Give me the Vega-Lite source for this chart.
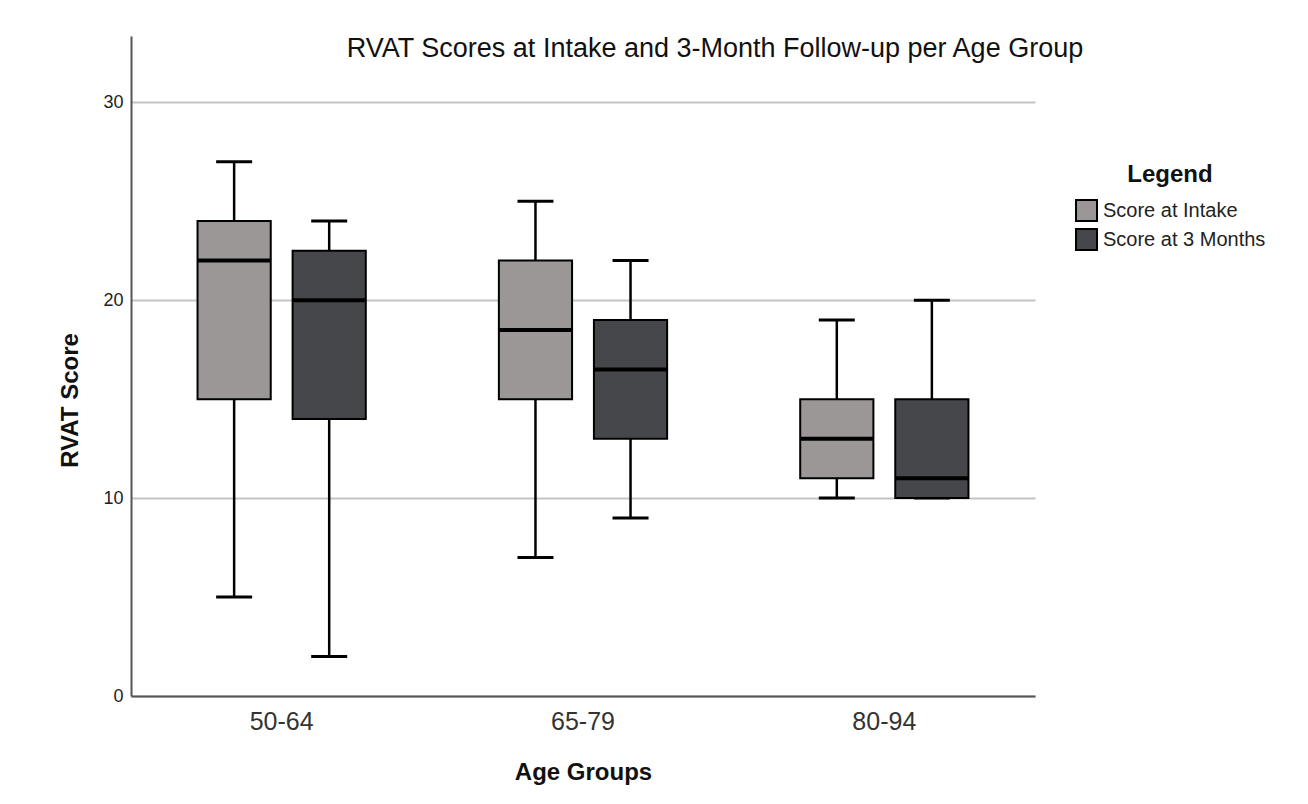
{
  "$schema": "https://vega.github.io/schema/vega-lite/v6.json",
  "autosize": {"type": "none"},
  "width": 904,
  "height": 660,
  "padding": {"left": 131, "top": 36, "right": 273, "bottom": 108},
  "background": "white",
  "title": {
    "text": "RVAT Scores at Intake and 3-Month Follow-up per Age Group",
    "anchor": "middle",
    "frame": "group",
    "dx": 132,
    "offset": -48,
    "baseline": "alphabetic",
    "font": "Liberation Sans",
    "fontSize": 27,
    "fontWeight": "normal",
    "color": "#111111"
  },
  "config": {
    "view": {"stroke": null},
    "font": "Liberation Sans"
  },
  "data": {
    "values": [
      {"group": "50-64", "series": "Score at Intake", "min": 5, "q1": 15, "median": 22, "q3": 24, "max": 27},
      {"group": "50-64", "series": "Score at 3 Months", "min": 2, "q1": 14, "median": 20, "q3": 22.5, "max": 24},
      {"group": "65-79", "series": "Score at Intake", "min": 7, "q1": 15, "median": 18.5, "q3": 22, "max": 25},
      {"group": "65-79", "series": "Score at 3 Months", "min": 9, "q1": 13, "median": 16.5, "q3": 19, "max": 22},
      {"group": "80-94", "series": "Score at Intake", "min": 10, "q1": 11, "median": 13, "q3": 15, "max": 19},
      {"group": "80-94", "series": "Score at 3 Months", "min": 10, "q1": 10, "median": 11, "q3": 15, "max": 20}
    ]
  },
  "encoding": {
    "x": {
      "field": "group",
      "type": "nominal",
      "sort": ["50-64", "65-79", "80-94"],
      "scale": {"paddingInner": 0, "paddingOuter": 0},
      "axis": {
        "title": "Age Groups",
        "titleFontSize": 24,
        "titleFontWeight": "bold",
        "titleColor": "#111111",
        "titleBaseline": "alphabetic",
        "titleY": 83,
        "labelAngle": 0,
        "labelFontSize": 25,
        "labelColor": "#333333",
        "labelPadding": 13,
        "ticks": false,
        "domainColor": "#555555",
        "domainWidth": 2,
        "grid": false
      }
    },
    "xOffset": {
      "field": "series",
      "type": "nominal",
      "sort": ["Score at Intake", "Score at 3 Months"],
      "scale": {"paddingInner": 0.23, "paddingOuter": 0.7}
    }
  },
  "layer": [
    {
      "mark": {"type": "rule", "color": "#000000", "strokeWidth": 2.5, "opacity": 1},
      "encoding": {
        "y": {
          "field": "min",
          "type": "quantitative",
          "scale": {"domain": [0, 33.35], "nice": false},
          "axis": {
            "title": "RVAT Score",
            "titleFontSize": 24,
            "titleFontWeight": "bold",
            "titleColor": "#111111",
            "titleAngle": -90,
            "titleAlign": "center",
            "titleBaseline": "alphabetic",
            "titleX": -54,
            "titleY": 364,
            "values": [0, 10, 20, 30],
            "labelFontSize": 18,
            "labelColor": "#222222",
            "labelPadding": 8,
            "ticks": false,
            "domainColor": "#555555",
            "domainWidth": 2,
            "grid": true,
            "gridColor": "#c4c4c4",
            "gridWidth": 2
          }
        },
        "y2": {"field": "max"}
      }
    },
    {
      "mark": {"type": "tick", "color": "#000000", "size": 36, "thickness": 3, "opacity": 1},
      "encoding": {"y": {"field": "min", "type": "quantitative"}}
    },
    {
      "mark": {"type": "tick", "color": "#000000", "size": 36, "thickness": 3, "opacity": 1},
      "encoding": {"y": {"field": "max", "type": "quantitative"}}
    },
    {
      "mark": {"type": "bar", "stroke": "#000000", "strokeWidth": 2, "opacity": 1},
      "encoding": {
        "y": {"field": "q1", "type": "quantitative"},
        "y2": {"field": "q3"},
        "fill": {
          "field": "series",
          "type": "nominal",
          "sort": ["Score at Intake", "Score at 3 Months"],
          "scale": {"domain": ["Score at Intake", "Score at 3 Months"], "range": ["#9b9796", "#46474a"]},
          "legend": {
            "title": "Legend",
            "orient": "none",
            "legendX": 944,
            "legendY": 127,
            "padding": 0,
            "titleFontSize": 24,
            "titleFontWeight": "bold",
            "titleColor": "#111111",
            "titleAnchor": "middle",
            "titleAlign": "center",
            "titlePadding": 12,
            "labelFontSize": 20,
            "labelColor": "#222222",
            "labelOffset": 5,
            "labelLimit": 400,
            "symbolType": "square",
            "symbolSize": 441,
            "symbolStrokeColor": "#000000",
            "symbolStrokeWidth": 2,
            "symbolOpacity": 1,
            "rowPadding": 0
          }
        }
      }
    },
    {
      "mark": {"type": "tick", "color": "#000000", "size": 73, "thickness": 4, "opacity": 1},
      "encoding": {"y": {"field": "median", "type": "quantitative"}}
    }
  ]
}
